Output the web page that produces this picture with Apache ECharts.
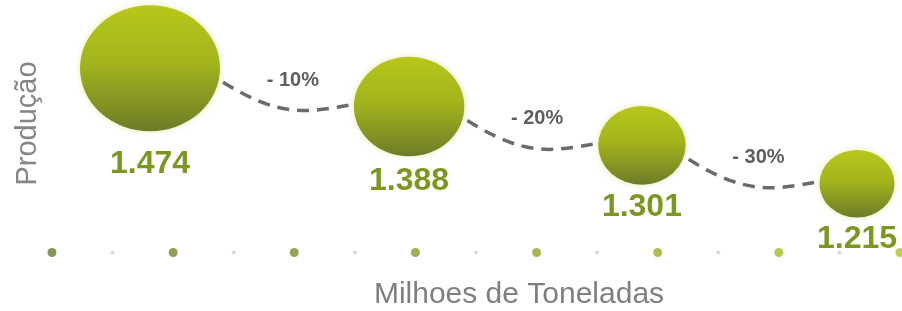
<!DOCTYPE html>
<html>
<head>
<meta charset="utf-8">
<script src="https://cdn.jsdelivr.net/npm/echarts@6/dist/echarts.min.js"></script>
<style>
html,body{margin:0;padding:0;background:#fff;}
#chart{width:902px;height:311px;}
</style>
</head>
<body>
<div id="chart"></div>
<script>
// ---- data ----
const producao = [1.474, 1.388, 1.301, 1.215];
const variacao = ['- 10%', '- 20%', '- 30%'];
const yAxisTitle = 'Produção';
const xAxisTitle = 'Milhoes de Toneladas';
const dotKinds = ['major','minor','major','minor','major','minor','major','minor','major','minor','major','minor','major','minor','major'];

// ---- layout helpers (derived from values) ----
const vMin = Math.min.apply(null, producao), vMax = Math.max.apply(null, producao);
function bubbleW(v) { const t = (v - vMin) / (vMax - vMin); return 75 + 65 * Math.pow(t, 1.5); }
const widths = producao.map(bubbleW);
const firstX = 150, lastX = 857;
let half = 0;
for (let i = 0; i < widths.length; i++) half += (i === 0 || i === widths.length - 1) ? widths[i] / 2 : widths[i];
const gap = (lastX - firstX - half) / (widths.length - 1);
const xs = [firstX];
for (let i = 1; i < widths.length; i++) xs.push(xs[i - 1] + widths[i - 1] / 2 + gap + widths[i] / 2);

const FONT = 'Liberation Sans, Arial, sans-serif';
const bubbleData = producao.map((v, i) => ({
  value: [xs[i], v],
  label: { distance: Math.max(6, (widths[i] - 80) * 0.28) }
}));

const chart = echarts.init(document.getElementById('chart'));
chart.setOption({
  animation: false,
  backgroundColor: '#ffffff',
  grid: [
    { left: 0, right: 0, top: 12, bottom: 76 },
    { left: 52, right: 2, top: 248, height: 20 }
  ],
  xAxis: [
    { type: 'value', gridIndex: 0, min: 0, max: 902, show: false },
    { type: 'category', gridIndex: 1, boundaryGap: false, data: dotKinds.map((k, i) => String(i)),
      axisLine: { show: false }, axisTick: { show: false }, axisLabel: { show: false }, splitLine: { show: false },
      name: xAxisTitle, nameLocation: 'middle', nameGap: 23,
      nameTextStyle: { fontSize: 30, color: '#7f7f7f', fontFamily: FONT, padding: [0, 0, 0, 86] } }
  ],
  yAxis: [
    { type: 'value', gridIndex: 0, min: 1.1, max: 1.6,
      axisLine: { show: false }, axisTick: { show: false }, axisLabel: { show: false }, splitLine: { show: false },
      name: yAxisTitle, nameLocation: 'middle', nameRotate: 90, nameGap: -42,
      nameTextStyle: { fontSize: 29, color: '#858585', fontFamily: FONT } },
    { type: 'value', gridIndex: 1, min: -1, max: 1, show: false }
  ],
  series: [
    {
      type: 'custom', xAxisIndex: 0, yAxisIndex: 0, z: 1,
      data: variacao.map((t, i) => [i]),
      renderItem: function (params, api) {
        const i = api.value(0);
        const a = api.coord(bubbleData[i].value);
        const b = api.coord(bubbleData[i + 1].value);
        const wa = widths[i], wb = widths[i + 1];
        const x1 = a[0] + wa / 2 + 3, y1 = a[1] + 14;
        const x2 = b[0] - wb / 2 - 1, y2 = b[1] - 2;
        const dx = x2 - x1;
        const cp1x = x1 + 0.45 * dx, cp1y = y2 + 14;
        const cp2x = x2 - 0.35 * dx, cp2y = y2 + 8;
        const mx = (x1 + 3 * cp1x + 3 * cp2x + x2) / 8;
        const my = (y1 + 3 * cp1y + 3 * cp2y + y2) / 8;
        return {
          type: 'group',
          children: [
            { type: 'bezierCurve',
              shape: { x1: x1, y1: y1, x2: x2, y2: y2, cpx1: cp1x, cpy1: cp1y, cpx2: cp2x, cpy2: cp2y },
              style: { stroke: '#6b6b6b', lineWidth: 3.5, lineDash: [12, 8], fill: null } },
            { type: 'text', x: mx, y: my - 30,
              style: { text: variacao[i], fill: '#5e5e5e', fontSize: 20, fontWeight: 'bold', fontFamily: FONT,
                       align: 'center', verticalAlign: 'middle' } }
          ]
        };
      }
    },
    {
      type: 'scatter', xAxisIndex: 0, yAxisIndex: 0, z: 3,
      data: bubbleData,
      symbol: 'circle',
      symbolSize: function (val) { const w = bubbleW(val[1]); return [w, w * 0.9]; },
      itemStyle: {
        color: { type: 'linear', x: 0, y: 0, x2: 0, y2: 1,
          colorStops: [ { offset: 0, color: '#b7c71b' }, { offset: 0.45, color: '#a4b51c' }, { offset: 1, color: '#6e7b29' } ] },
        shadowBlur: 6, shadowColor: 'rgba(215,225,120,0.6)', opacity: 1
      },
      label: {
        show: true, position: 'bottom',
        formatter: function (p) { return p.value[1].toFixed(3); },
        fontSize: 32, fontWeight: 'bold', color: '#7a981f', fontFamily: FONT
      }
    },
    {
      type: 'scatter', xAxisIndex: 1, yAxisIndex: 1, z: 2,
      data: dotKinds.map((k, i) => ({
        value: [i, 0],
        symbolSize: k === 'major' ? 9 : 4,
        itemStyle: { color: k === 'major'
          ? echarts.color.lerp(i / (dotKinds.length - 1), ['#687a30', '#afc51d'])
          : '#d0d0d0' }
      })),
      symbol: 'circle'
    }
  ]
});
</script>
</body>
</html>
